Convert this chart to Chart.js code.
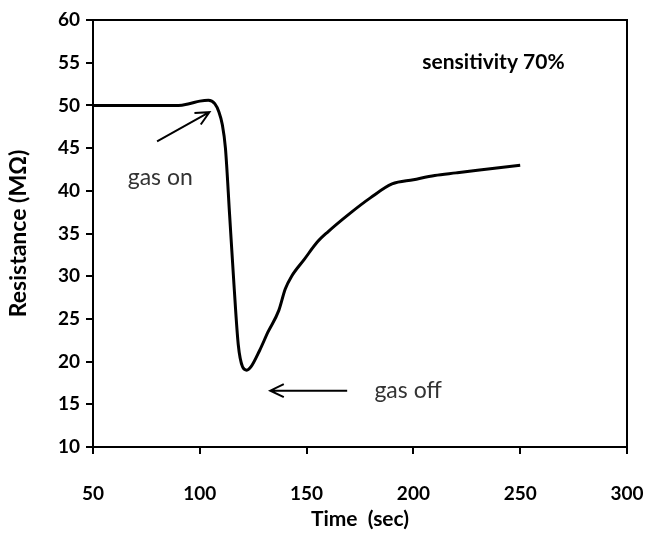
<!DOCTYPE html>
<html>
<head>
<meta charset="utf-8">
<title>Resistance vs time</title>
<script src="https://cdn.jsdelivr.net/npm/chart.js@4"></script>
<style>
  body { margin: 0; background: #fff; }
  #wrap { width: 646px; height: 533px; }
</style>
</head>
<body>
<div id="wrap"><canvas id="sensorChart"></canvas></div>
<script>
// values
const timeSec = [50, 60, 70, 80, 90, 95, 100, 104, 107, 109, 110.5, 112, 114, 116, 118, 120, 122, 124, 128, 132, 137, 140, 143, 149, 155, 160, 170, 180, 190, 200, 210, 220, 230, 240, 250];
const resistance = [50, 50, 50, 50, 50, 50.2, 50.5, 50.6, 50.2, 49.2, 47.8, 45, 37, 29, 22, 19.4, 19, 19.4, 21.3, 23.5, 26, 28.5, 30, 32, 34, 35.2, 37.3, 39.2, 40.8, 41.3, 41.8, 42.1, 42.4, 42.7, 43];

const xTicks = [50, 100, 150, 200, 250, 300];
const yTicks = [10, 15, 20, 25, 30, 35, 40, 45, 50, 55, 60];

const fontFamily = "Lato, 'Open Sans', sans-serif";

// text labels and arrows placed in data coordinates
const notes = [
    { text: "sensitivity 70%", x: 237.5, y: 55.1, bold: true, size: 21, color: "#000" },
    { text: "gas on", x: 81.5, y: 41.5, bold: false, size: 23, color: "#333" },
    { text: "gas off", x: 197.5, y: 16.6, bold: false, size: 23, color: "#333" }
];
const arrows = [
    { from: [80, 45.8], to: [104.5, 49.2] },
    { from: [169, 16.6], to: [133, 16.6] }
];

const notesPlugin = {
    id: "notes",
    afterDraw(chart) {
        const { ctx, chartArea, scales } = chart;
        ctx.save();
        // frame round the plot
        ctx.strokeStyle = "#000";
        ctx.lineWidth = 2;
        ctx.strokeRect(chartArea.left, chartArea.top, chartArea.right - chartArea.left, chartArea.bottom - chartArea.top);

        ctx.textAlign = "center";
        ctx.textBaseline = "middle";
        notes.forEach(n => {
            ctx.font = (n.bold ? "bold " : "") + n.size + "px " + fontFamily;
            ctx.fillStyle = n.color;
            ctx.fillText(n.text, scales.x.getPixelForValue(n.x), scales.y.getPixelForValue(n.y));
        });

        ctx.strokeStyle = "#000";
        ctx.lineWidth = 2;
        arrows.forEach(a => {
            const x1 = scales.x.getPixelForValue(a.from[0]);
            const y1 = scales.y.getPixelForValue(a.from[1]);
            const x2 = scales.x.getPixelForValue(a.to[0]);
            const y2 = scales.y.getPixelForValue(a.to[1]);
            const ang = Math.atan2(y2 - y1, x2 - x1);
            const head = 15;
            ctx.beginPath();
            ctx.moveTo(x1, y1);
            ctx.lineTo(x2, y2);
            ctx.moveTo(x2 - head * Math.cos(ang - 0.45), y2 - head * Math.sin(ang - 0.45));
            ctx.lineTo(x2, y2);
            ctx.lineTo(x2 - head * Math.cos(ang + 0.45), y2 - head * Math.sin(ang + 0.45));
            ctx.stroke();
        });
        ctx.restore();
    }
};

new Chart(document.getElementById("sensorChart"), {
    type: "scatter",
    data: {
        datasets: [{
            data: timeSec.map((t, i) => ({ x: t, y: resistance[i] })),
            showLine: true,
            borderColor: "#000",
            borderWidth: 3,
            pointRadius: 0,
            cubicInterpolationMode: "monotone"
        }]
    },
    options: {
        responsive: true,
        maintainAspectRatio: false,
        animation: false,
        layout: { padding: { top: 20, right: 19, left: 0, bottom: 0 } },
        plugins: { legend: { display: false }, tooltip: { enabled: false } },
        scales: {
            x: {
                type: "linear",
                min: 50,
                max: 300,
                afterBuildTicks: s => { s.ticks = xTicks.map(v => ({ value: v })); },
                afterFit: s => { s.height = 86; s.paddingLeft = 0; s.paddingRight = 0; },
                grid: { drawOnChartArea: false, color: "#000", lineWidth: 2, tickLength: 7 },
                border: { color: "#000", width: 2 },
                ticks: { color: "#000", padding: 28, font: { family: fontFamily, size: 19, weight: "bold" } },
                title: { display: true, text: "Time  (sec)", color: "#000", padding: { top: 0, bottom: 1 }, font: { family: fontFamily, size: 21, weight: "bold" } }
            },
            y: {
                min: 10,
                max: 60,
                afterBuildTicks: s => { s.ticks = yTicks.map(v => ({ value: v })); },
                afterFit: s => { s.width = 93; s.paddingTop = 0; s.paddingBottom = 0; },
                grid: { drawOnChartArea: false, color: "#000", lineWidth: 2, tickLength: 7 },
                border: { color: "#000", width: 2 },
                ticks: { color: "#000", padding: 6, font: { family: fontFamily, size: 19, weight: "bold" } },
                title: { display: true, text: "Resistance (MΩ)", color: "#000", padding: { top: 5, bottom: 0 }, font: { family: fontFamily, size: 23, weight: "bold" } }
            }
        }
    },
    plugins: [notesPlugin]
});
</script>
</body>
</html>
